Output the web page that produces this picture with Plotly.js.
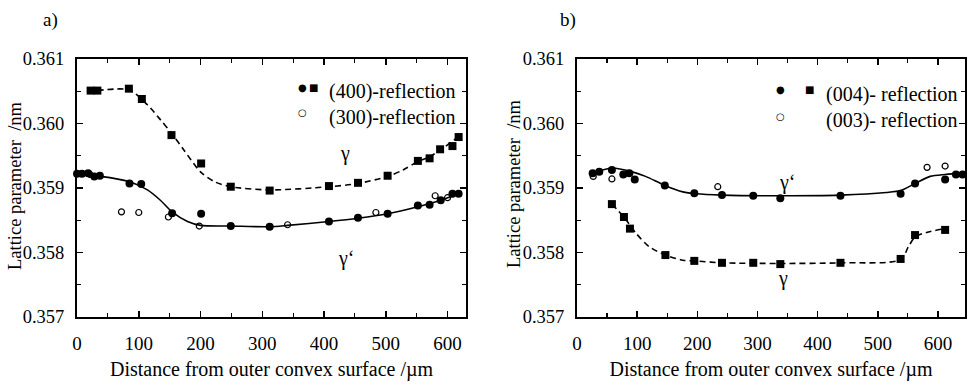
<!DOCTYPE html>
<html><head><meta charset="utf-8">
<script src="https://cdn.plot.ly/plotly-3.0.1.min.js"></script>
<style>html,body{margin:0;padding:0;background:#fff}#chart{width:976px;height:391px}</style>
</head><body><div id="chart"></div>
<script>
// ---- Panel a: (400)/(300) reflections ----
const aGammaX = [22, 33, 84, 105, 153, 201, 249, 312, 408, 455, 503, 552, 571, 588, 608, 618];
const aGammaY = [0.36051, 0.36051, 0.36054, 0.36038, 0.35982, 0.35938, 0.35902, 0.35896, 0.35903, 0.35908, 0.35919, 0.35942, 0.35946, 0.35960, 0.35965, 0.35979];
const aPrimeX = [0, 8, 18, 28, 37, 85, 104, 154, 201, 249, 312, 408, 455, 503, 552, 571, 589, 608, 618];
const aPrimeY = [0.35922, 0.35922, 0.35923, 0.35918, 0.35919, 0.35907, 0.35906, 0.35861, 0.35860, 0.35841, 0.35840, 0.35848, 0.35854, 0.35860, 0.35873, 0.35874, 0.35881, 0.35891, 0.35891];
const aOpenX = [21, 72, 100, 148, 198, 341, 484, 580, 600];
const aOpenY = [0.35921, 0.35863, 0.35862, 0.35855, 0.35841, 0.35843, 0.35862, 0.35888, 0.35885];
const aFitGammaX = [33, 84, 114, 135, 153, 173, 200, 222, 249, 312, 408, 455, 503, 528, 552, 572, 593, 618];
const aFitGammaY = [0.36051, 0.36052, 0.36029, 0.36006, 0.35985, 0.35959, 0.35925, 0.35910, 0.35902, 0.35897, 0.35902, 0.35907, 0.35918, 0.35928, 0.35941, 0.35949, 0.35962, 0.35980];
const aFitPrimeX = [0, 38, 84, 114, 135, 154, 179, 200, 249, 312, 341, 408, 455, 503, 552, 589, 618];
const aFitPrimeY = [0.35921, 0.35918, 0.35910, 0.35897, 0.35881, 0.35863, 0.35848, 0.35842, 0.35841, 0.35840, 0.35842, 0.35848, 0.35853, 0.35860, 0.35871, 0.35881, 0.35891];

// ---- Panel b: (004)/(003) reflections ----
const bPrimeX = [26, 37, 58, 77, 87, 96, 146, 195, 241, 293, 338, 438, 538, 562, 612, 630, 641];
const bPrimeY = [0.35923, 0.35925, 0.35928, 0.35921, 0.35923, 0.35913, 0.35904, 0.35892, 0.35889, 0.35888, 0.35884, 0.35888, 0.35891, 0.35907, 0.35913, 0.35921, 0.35921];
const bOpenX = [27, 58, 234, 582, 612];
const bOpenY = [0.35918, 0.35914, 0.35902, 0.35932, 0.35934];
const bGammaX = [58, 78, 88, 147, 195, 241, 293, 338, 438, 538, 562, 612];
const bGammaY = [0.35875, 0.35855, 0.35837, 0.35796, 0.35787, 0.35784, 0.35784, 0.35782, 0.35784, 0.35790, 0.35827, 0.35835];
const bFitPrimeX = [26, 58, 92, 114, 146, 176, 198, 241, 338, 438, 514, 538, 562, 587, 612, 645];
const bFitPrimeY = [0.35923, 0.35931, 0.35925, 0.35918, 0.35904, 0.35894, 0.35891, 0.35889, 0.35888, 0.35889, 0.35893, 0.35896, 0.35907, 0.35918, 0.35921, 0.35923];
const bFitGammaX = [58, 78, 98, 120, 147, 176, 195, 241, 338, 438, 538, 551, 562, 581, 612];
const bFitGammaY = [0.35875, 0.35855, 0.35830, 0.35809, 0.35796, 0.35788, 0.35787, 0.35784, 0.35783, 0.35784, 0.35789, 0.35809, 0.35824, 0.35831, 0.35837];

const tickLabelsX = ['0', '100', '200', '300', '400', '500', '600'];
const tickValsX = [0, 100, 200, 300, 400, 500, 600];
const legendA = ['(400)-reflection', '(300)-reflection'];
const legendB = ['(004)- reflection', '(003)- reflection'];

const FONT = '"Liberation Serif", "Times New Roman", serif';
const lineStyle = (dash) => ({color: '#000', width: 1.6, dash: dash, shape: 'spline', smoothing: 0.8});
const filled = {symbol: 'circle', size: 8, color: '#000'};
const square = {symbol: 'square', size: 8, color: '#000'};
const open = {symbol: 'circle-open', size: 6, color: '#000', line: {width: 1.2, color: '#000'}};

const traces = [
  {x: aFitGammaX, y: aFitGammaY, mode: 'lines', line: lineStyle('6px,4px'), xaxis: 'x', yaxis: 'y', hoverinfo: 'skip'},
  {x: aFitPrimeX, y: aFitPrimeY, mode: 'lines', line: lineStyle('solid'), xaxis: 'x', yaxis: 'y', hoverinfo: 'skip'},
  {x: aGammaX, y: aGammaY, mode: 'markers', marker: square, name: 'γ (400)', xaxis: 'x', yaxis: 'y'},
  {x: aPrimeX, y: aPrimeY, mode: 'markers', marker: filled, name: 'γ‘ (400)', xaxis: 'x', yaxis: 'y'},
  {x: aOpenX, y: aOpenY, mode: 'markers', marker: open, name: '(300)', xaxis: 'x', yaxis: 'y'},
  {x: bFitGammaX, y: bFitGammaY, mode: 'lines', line: lineStyle('6px,4px'), xaxis: 'x2', yaxis: 'y2', hoverinfo: 'skip'},
  {x: bFitPrimeX, y: bFitPrimeY, mode: 'lines', line: lineStyle('solid'), xaxis: 'x2', yaxis: 'y2', hoverinfo: 'skip'},
  {x: bGammaX, y: bGammaY, mode: 'markers', marker: square, name: 'γ (004)', xaxis: 'x2', yaxis: 'y2'},
  {x: bPrimeX, y: bPrimeY, mode: 'markers', marker: filled, name: 'γ‘ (004)', xaxis: 'x2', yaxis: 'y2'},
  {x: bOpenX, y: bOpenY, mode: 'markers', marker: open, name: '(003)', xaxis: 'x2', yaxis: 'y2'}
].map(t => Object.assign({showlegend: false, cliponaxis: false}, t));

const xaxisBase = (range, domain, anchor) => ({
  range: range, domain: domain, anchor: anchor,
  tickvals: tickValsX, ticktext: tickLabelsX,
  ticks: 'inside', ticklen: 6, tickwidth: 1.5, tickcolor: '#000',
  minor: {dtick: 50, tick0: 0, ticks: 'inside', ticklen: 4, tickcolor: '#000', tickwidth: 1.2},
  showline: true, linewidth: 2, linecolor: '#000', mirror: 'ticks',
  showgrid: false, zeroline: false, ticklabelstandoff: 8,
  tickfont: {family: FONT, size: 19, color: '#000'},
  title: {text: 'Distance from outer convex surface /µm', font: {family: FONT, size: 20, color: '#000'}, standoff: 9},
  fixedrange: true
});
const yaxisBase = (domain, anchor) => ({
  range: [0.357, 0.361], domain: domain, anchor: anchor,
  dtick: 0.001, tick0: 0.357, tickformat: '.3f',
  ticks: 'inside', ticklen: 6, tickwidth: 1.5, tickcolor: '#000',
  minor: {dtick: 0.0005, tick0: 0.357, ticks: 'inside', ticklen: 4, tickcolor: '#000', tickwidth: 1.2},
  showline: true, linewidth: 2, linecolor: '#000', mirror: 'ticks',
  showgrid: false, zeroline: false, ticklabelstandoff: 7,
  tickfont: {family: FONT, size: 18.5, color: '#000'},
  fixedrange: true
});

const yDom = [0.1893, 0.8491];
const P = (px) => px / 976;
const Q = (py) => (391 - py) / 391;
const txt = (o) => Object.assign({showarrow: false, xanchor: 'center', yanchor: 'middle', font: {family: FONT, size: 20, color: '#000'}}, o);
const sym = (o) => Object.assign({showarrow: false, xanchor: 'center', yanchor: 'middle', font: {family: 'DejaVu Sans', size: 10, color: '#000'}}, o);

const layout = {
  width: 976, height: 391,
  margin: {l: 0, r: 0, t: 0, b: 0},
  paper_bgcolor: '#fff', plot_bgcolor: '#fff',
  showlegend: false,
  xaxis: xaxisBase([0, 630], [0.0789, 0.4775], 'y'),
  yaxis: yaxisBase(yDom, 'x'),
  xaxis2: xaxisBase([0, 645], [0.5912, 0.9887], 'y2'),
  yaxis2: yaxisBase(yDom, 'x2'),
  annotations: [
    txt({text: 'a)', xref: 'paper', yref: 'paper', x: P(50), y: Q(20), font: {family: FONT, size: 19, color: '#000'}}),
    txt({text: 'b)', xref: 'paper', yref: 'paper', x: P(568), y: Q(20), font: {family: FONT, size: 19, color: '#000'}}),
    // y-axis titles
    txt({text: 'Lattice parameter  /nm', xref: 'paper', yref: 'paper', x: P(15), y: Q(186), textangle: -90, font: {family: FONT, size: 18.5, color: '#000'}}),
    txt({text: 'Lattice parameter  /nm', xref: 'paper', yref: 'paper', x: P(514), y: Q(184), textangle: -90, font: {family: FONT, size: 18.5, color: '#000'}}),
    // legends panel a
    sym({text: '●', xref: 'paper', yref: 'paper', x: P(302), y: Q(87)}),
    sym({text: '■', xref: 'paper', yref: 'paper', x: P(313), y: Q(87)}),
    sym({text: '○', xref: 'paper', yref: 'paper', x: P(302), y: Q(113)}),
    txt({text: legendA.join('<br>'), align: 'right', xref: 'paper', yref: 'paper', x: P(458), xanchor: 'right', y: Q(104)}),
    // legends panel b
    sym({text: '●', xref: 'paper', yref: 'paper', x: P(780), y: Q(90)}),
    sym({text: '■', xref: 'paper', yref: 'paper', x: P(809), y: Q(90)}),
    sym({text: '○', xref: 'paper', yref: 'paper', x: P(780), y: Q(116)}),
    txt({text: legendB.join('<br>'), align: 'right', xref: 'paper', yref: 'paper', x: P(960), xanchor: 'right', y: Q(107)}),
    // phase labels
    txt({text: 'γ', xref: 'x', yref: 'y', x: 434, y: 0.35954}),
    txt({text: 'γ‘', xref: 'x', yref: 'y', x: 437, y: 0.35791}),
    txt({text: 'γ‘', xref: 'x2', yref: 'y2', x: 350, y: 0.35909}),
    txt({text: 'γ', xref: 'x2', yref: 'y2', x: 342, y: 0.35760})
  ]
};

Plotly.newPlot('chart', traces, layout, {staticPlot: true, displayModeBar: false});
</script>
</body></html>
